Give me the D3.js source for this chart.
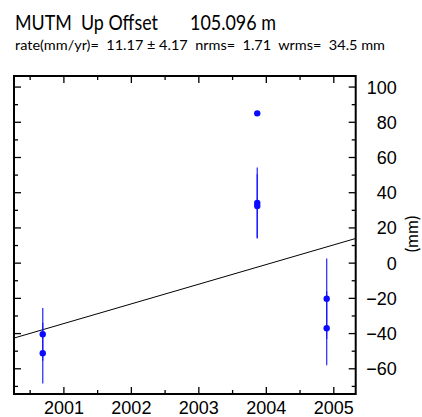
<!DOCTYPE html>
<html>
<head>
<meta charset="utf-8">
<script src="https://cdn.jsdelivr.net/npm/d3@7"></script>
<style>
  html, body { margin: 0; padding: 0; background: #fff; }
  svg { display: block; font-family: Lato, "Open Sans", sans-serif; }
  text { white-space: pre; }
</style>
</head>
<body>
<svg id="chart" width="422" height="417"></svg>
<script>
// Site and solution summary
const site = "MUTM";
const component = "Up";
const offsetLabel = "105.096 m";
const rate = 11.17;        // mm/yr
const rateSigma = 4.17;
const nrms = 1.71;
const wrms = 34.5;         // mm

// Observations: decimal year, height residual (mm), one-sigma (mm)
const epochs = [2000.694, 2000.694, 2003.873, 2003.873, 2003.873, 2004.902, 2004.902];
const values = [-40.7, -51.4, 84.8, 33.9, 32.2, -20.5, -37.3];
const sigmas = [15.0, 17.2, 0, 20.2, 18.0, 22.8, 21.0];

// Fitted trend: value at reference epoch plus rate
const trendEpoch = 2002.8;
const trendValue = -14.55;

// Axis tick values
const yearTicks = [2001, 2002, 2003, 2004, 2005];
const mmTicks = [-60, -40, -20, 0, 20, 40, 60, 80, 100];

const svg = d3.select("#chart");
const frame = { left: 14, right: 355.7, top: 76, bottom: 394 };

const x = d3.scaleLinear().domain([2000.268, 2005.332]).range([frame.left, frame.right]);
const y = d3.scaleLinear().domain([-74.6, 106.0]).range([frame.bottom, frame.top]);

// Header lines (condensed to the header's fixed widths)
svg.append("text")
  .attr("x", 15).attr("y", 30)
  .attr("font-size", 21)
  .attr("textLength", 143).attr("lengthAdjust", "spacingAndGlyphs")
  .text(`${site}  ${component} Offset`);
svg.append("text")
  .attr("x", 190).attr("y", 30)
  .attr("font-size", 21)
  .attr("textLength", 86).attr("lengthAdjust", "spacingAndGlyphs")
  .text(offsetLabel);
svg.append("text")
  .attr("x", 15).attr("y", 50)
  .attr("font-size", 14)
  .attr("textLength", 370).attr("lengthAdjust", "spacingAndGlyphs")
  .text(`rate(mm/yr)=  ${rate.toFixed(2)} ± ${rateSigma.toFixed(2)}  nrms=  ${nrms.toFixed(2)}  wrms=  ${wrms.toFixed(1)} mm`);

// Minor tick positions (every half year / every 10 mm)
const yearMinor = d3.range(2000.5, 2005.5, 1);
const mmMinor = d3.range(-70, 110, 20);

function styleAxis(g) {
  g.select(".domain").remove();
  g.selectAll(".tick line").attr("stroke", "#000").attr("stroke-width", 1.3);
}

const majorLen = 7, minorLen = 4;

// Bottom & top axes (ticks pointing into the frame)
svg.append("g").attr("transform", `translate(0,${frame.bottom})`)
  .call(d3.axisBottom(x).tickValues(yearTicks).tickSize(-majorLen).tickFormat(d3.format("d")))
  .call(styleAxis)
  .call(g => g.selectAll("text").attr("font-size", 18).attr("fill", "#000").attr("y", 20).attr("dy", 0));
svg.append("g").attr("transform", `translate(0,${frame.bottom})`)
  .call(d3.axisBottom(x).tickValues(yearMinor).tickSize(-minorLen).tickFormat(""))
  .call(styleAxis);
svg.append("g").attr("transform", `translate(0,${frame.top})`)
  .call(d3.axisTop(x).tickValues(yearTicks).tickSize(-majorLen).tickFormat(""))
  .call(styleAxis);
svg.append("g").attr("transform", `translate(0,${frame.top})`)
  .call(d3.axisTop(x).tickValues(yearMinor).tickSize(-minorLen).tickFormat(""))
  .call(styleAxis);

// Left & right axes
svg.append("g").attr("transform", `translate(${frame.left},0)`)
  .call(d3.axisLeft(y).tickValues(mmTicks).tickSize(-majorLen).tickFormat(""))
  .call(styleAxis);
svg.append("g").attr("transform", `translate(${frame.left},0)`)
  .call(d3.axisLeft(y).tickValues(mmMinor).tickSize(-minorLen).tickFormat(""))
  .call(styleAxis);
svg.append("g").attr("transform", `translate(${frame.right},0)`)
  .call(d3.axisRight(y).tickValues(mmTicks).tickSize(-majorLen).tickFormat(d3.format("d")))
  .call(styleAxis)
  .call(g => g.selectAll("text").attr("font-size", 18).attr("fill", "#000")
    .attr("text-anchor", "end").attr("x", 41).attr("dy", "0.36em"));
svg.append("g").attr("transform", `translate(${frame.right},0)`)
  .call(d3.axisRight(y).tickValues(mmMinor).tickSize(-minorLen).tickFormat(""))
  .call(styleAxis);

// Units label
svg.append("text")
  .attr("transform", `translate(418,234) rotate(-90)`)
  .attr("text-anchor", "middle")
  .attr("font-size", 17)
  .text("(mm)");

// Plot contents, clipped to the frame
svg.append("clipPath").attr("id", "plotClip")
  .append("rect")
  .attr("x", frame.left).attr("y", frame.top)
  .attr("width", frame.right - frame.left).attr("height", frame.bottom - frame.top);
const plot = svg.append("g").attr("clip-path", "url(#plotClip)");

// Trend line
const trend = t => trendValue + rate * (t - trendEpoch);
const [t0, t1] = x.domain();
plot.append("line")
  .attr("x1", x(t0)).attr("y1", y(trend(t0)))
  .attr("x2", x(t1)).attr("y2", y(trend(t1)))
  .attr("stroke", "#000").attr("stroke-width", 1);

// Error bars and points
const obs = epochs.map((t, i) => ({ t, v: values[i], s: sigmas[i] }));
plot.selectAll("line.err").data(obs.filter(d => d.s > 0)).join("line")
  .attr("class", "err")
  .attr("x1", d => x(d.t)).attr("x2", d => x(d.t))
  .attr("y1", d => y(d.v + d.s)).attr("y2", d => y(d.v - d.s))
  .attr("stroke", "#1010ff").attr("stroke-width", 1.3).attr("stroke-opacity", 0.85);
plot.selectAll("circle").data(obs).join("circle")
  .attr("cx", d => x(d.t)).attr("cy", d => y(d.v))
  .attr("r", 3.2).attr("fill", "#0a0aff");

// Frame
svg.append("rect")
  .attr("x", frame.left).attr("y", frame.top)
  .attr("width", frame.right - frame.left).attr("height", frame.bottom - frame.top)
  .attr("fill", "none").attr("stroke", "#000").attr("stroke-width", 2);
</script>
</body>
</html>
